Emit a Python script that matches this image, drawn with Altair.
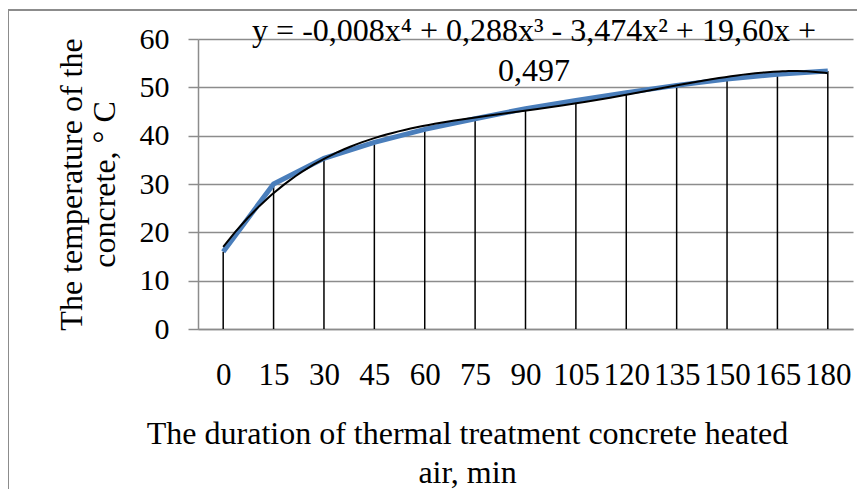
import altair as alt
import pandas as pd

minutes = [0, 15, 30, 45, 60, 75, 90, 105, 120, 135, 150, 165, 180]
temps = [16.0, 30.0, 35.3, 38.6, 41.3, 43.5, 45.6, 47.3, 48.9, 50.4, 51.7, 52.7, 53.4]
y_ticks = [0, 10, 20, 30, 40, 50, 60]
equation = ["y = -0,008x\u2074 + 0,288x\u00b3 - 3,474x\u00b2 + 19,60x +", "0,497"]
x_title = ["The duration of thermal treatment concrete heated", "air, min"]
y_title = ["The temperature of the", "concrete, \u00b0 C"]

df = pd.DataFrame({"t": minutes, "temp": temps})

FONT = "Liberation Serif"
W, H = 655, 290

xs = alt.Scale(domain=[-7.5, 187.5], nice=False, zero=False)
ys = alt.Scale(domain=[0, 60], nice=False)

base = alt.Chart(df)

drops = base.mark_rule(color="black", strokeWidth=1.5).encode(
    x=alt.X("t:Q", scale=xs,
            axis=alt.Axis(values=minutes, title=x_title, grid=False, ticks=False,
                          labelFontSize=31, labelPadding=31,
                          titleX=269, titleY=114, titleBaseline="alphabetic",
                          titleLineHeight=39, domainColor="#8c8c8c", domainWidth=1.5)),
    y=alt.Y("temp:Q", scale=ys,
            axis=alt.Axis(values=y_ticks, title=y_title, grid=True, gridColor="#8c8c8c",
                          gridWidth=1.5, tickColor="#8c8c8c", tickWidth=1.5, tickSize=10,
                          labelFontSize=30, labelPadding=19, titlePadding=18,
                          titleLineHeight=33, domainColor="#8c8c8c", domainWidth=1.5)),
    y2=alt.datum(0),
)

data_line = base.mark_line(color="#4a7ebb", strokeWidth=5).encode(
    x=alt.X("t:Q", scale=xs), y=alt.Y("temp:Q", scale=ys)
)

trend = base.transform_regression("t", "temp", method="poly", order=4).mark_line(
    color="black", strokeWidth=2
).encode(x=alt.X("t:Q", scale=xs), y=alt.Y("temp:Q", scale=ys))

eq = alt.Chart(pd.DataFrame({"label": [equation]})).mark_text(
    font=FONT, fontSize=32, lineHeight=40, baseline="alphabetic", align="center", color="black"
).encode(text="label:N", x=alt.value(336), y=alt.value(2))

frame_top = alt.Chart(pd.DataFrame({"a": [0]})).mark_rule(color="#8c8c8c", strokeWidth=2).encode(
    x=alt.value(-190), x2=alt.value(700), y=alt.value(-29)
)
frame_left = alt.Chart(pd.DataFrame({"a": [0]})).mark_rule(color="#8c8c8c", strokeWidth=2).encode(
    x=alt.value(-190), y=alt.value(-29), y2=alt.value(500)
)

chart = alt.layer(drops, data_line, trend, eq, frame_top, frame_left).properties(
    width=W, height=H,
    autosize=alt.AutoSizeParams(type="none"),
    padding={"left": 190, "top": 31, "right": 4, "bottom": 160},
).configure_view(stroke=None).configure_axis(
    labelFont=FONT, titleFont=FONT, labelColor="black", titleColor="black",
    titleFontWeight="normal", titleFontSize=32,
)

chart.save("out.html", embed_options={"renderer": "svg", "actions": False})
